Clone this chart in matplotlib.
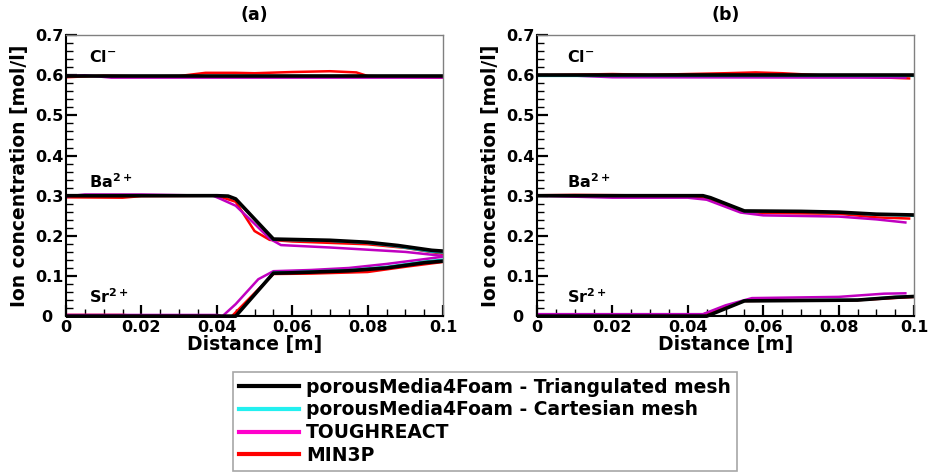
import matplotlib
matplotlib.use("Agg")
import matplotlib.pyplot as plt
from matplotlib.lines import Line2D
from matplotlib.ticker import MultipleLocator, FuncFormatter
from matplotlib.transforms import ScaledTranslation

# ---------------- data ----------------
# Panel (a)
a_cl_tri_x = [0.0, 0.1]
a_cl_tri_y = [0.598, 0.598]
a_cl_cart_x = [0.0, 0.1]
a_cl_cart_y = [0.597, 0.597]
a_cl_tough_x = [0.0, 0.005, 0.012, 0.1]
a_cl_tough_y = [0.598, 0.600, 0.594, 0.594]
a_cl_min3p_x = [0.0, 0.01, 0.02, 0.03, 0.037, 0.045, 0.05, 0.06, 0.07, 0.077, 0.08, 0.1]
a_cl_min3p_y = [0.595, 0.599, 0.597, 0.598, 0.606, 0.606, 0.605, 0.608, 0.610, 0.607, 0.598, 0.594]

a_ba_tri_x = [0.0, 0.04, 0.043, 0.045, 0.055, 0.06, 0.07, 0.08, 0.088, 0.097, 0.1]
a_ba_tri_y = [0.300, 0.300, 0.299, 0.292, 0.192, 0.191, 0.189, 0.184, 0.176, 0.164, 0.162]
a_ba_cart_x = [0.0, 0.04, 0.043, 0.045, 0.055, 0.06, 0.07, 0.08, 0.088, 0.097, 0.1]
a_ba_cart_y = [0.300, 0.300, 0.299, 0.291, 0.190, 0.189, 0.187, 0.182, 0.173, 0.160, 0.158]
a_ba_tough_x = [0.0, 0.005, 0.02, 0.039, 0.041, 0.045, 0.05, 0.054, 0.057, 0.07, 0.09, 0.1]
a_ba_tough_y = [0.298, 0.303, 0.303, 0.300, 0.292, 0.275, 0.230, 0.193, 0.177, 0.171, 0.160, 0.150]
a_ba_min3p_x = [0.0, 0.015, 0.02, 0.04, 0.045, 0.05, 0.054, 0.06, 0.08, 0.09, 0.1]
a_ba_min3p_y = [0.296, 0.295, 0.299, 0.300, 0.285, 0.212, 0.190, 0.186, 0.179, 0.170, 0.155]

a_sr_tri_x = [0.0, 0.045, 0.055, 0.06, 0.075, 0.085, 0.095, 0.1]
a_sr_tri_y = [0.0, 0.0, 0.107, 0.108, 0.113, 0.120, 0.133, 0.137]
a_sr_cart_x = [0.0, 0.045, 0.055, 0.06, 0.075, 0.085, 0.095, 0.1]
a_sr_cart_y = [0.0, 0.0, 0.109, 0.110, 0.115, 0.123, 0.136, 0.141]
a_sr_tough_x = [0.0, 0.04, 0.0415, 0.045, 0.051, 0.055, 0.065, 0.075, 0.085, 0.1]
a_sr_tough_y = [0.003, 0.003, 0.0, 0.030, 0.092, 0.112, 0.115, 0.120, 0.130, 0.148]
a_sr_min3p_x = [0.0, 0.015, 0.02, 0.044, 0.055, 0.065, 0.08, 0.09, 0.1]
a_sr_min3p_y = [0.003, 0.003, 0.0, 0.0, 0.105, 0.106, 0.110, 0.123, 0.135]

# Panel (b)
b_cl_tri_x = [0.0, 0.1]
b_cl_tri_y = [0.600, 0.600]
b_cl_cart_x = [0.0, 0.1]
b_cl_cart_y = [0.599, 0.599]
b_cl_tough_x = [0.0, 0.01, 0.02, 0.098]
b_cl_tough_y = [0.600, 0.599, 0.595, 0.594]
b_cl_min3p_x = [0.0, 0.02, 0.03, 0.04, 0.05, 0.058, 0.065, 0.075, 0.09, 0.099]
b_cl_min3p_y = [0.600, 0.603, 0.601, 0.603, 0.605, 0.607, 0.605, 0.600, 0.595, 0.592]

b_ba_tri_x = [0.0, 0.044, 0.046, 0.055, 0.07, 0.08, 0.09, 0.1]
b_ba_tri_y = [0.300, 0.300, 0.295, 0.262, 0.261, 0.259, 0.254, 0.252]
b_ba_cart_x = [0.0, 0.044, 0.046, 0.055, 0.07, 0.08, 0.09, 0.1]
b_ba_cart_y = [0.300, 0.300, 0.294, 0.261, 0.260, 0.258, 0.252, 0.250]
b_ba_tough_x = [0.0, 0.02, 0.04, 0.045, 0.054, 0.06, 0.08, 0.09, 0.098]
b_ba_tough_y = [0.300, 0.295, 0.295, 0.290, 0.258, 0.251, 0.248, 0.241, 0.233]
b_ba_min3p_x = [0.0, 0.01, 0.04, 0.046, 0.055, 0.06, 0.08, 0.09, 0.099]
b_ba_min3p_y = [0.301, 0.302, 0.300, 0.290, 0.260, 0.257, 0.255, 0.246, 0.243]

b_sr_tri_x = [0.0, 0.045, 0.055, 0.07, 0.085, 0.095, 0.1]
b_sr_tri_y = [0.0, 0.0, 0.038, 0.039, 0.040, 0.047, 0.049]
b_sr_cart_x = [0.0, 0.045, 0.055, 0.07, 0.085, 0.095, 0.1]
b_sr_cart_y = [0.0, 0.0, 0.039, 0.040, 0.041, 0.048, 0.050]
b_sr_tough_x = [0.0, 0.044, 0.05, 0.057, 0.08, 0.092, 0.098]
b_sr_tough_y = [0.005, 0.005, 0.027, 0.045, 0.048, 0.056, 0.057]
b_sr_min3p_x = [0.0, 0.044, 0.055, 0.085, 0.1]
b_sr_min3p_y = [0.004, 0.004, 0.038, 0.040, 0.048]

series_names = ["porousMedia4Foam - Triangulated mesh",
                "porousMedia4Foam - Cartesian mesh",
                "TOUGHREACT",
                "MIN3P"]
panel_titles = ["(a)", "(b)"]
ion_labels = [r"Cl$^{\mathbf{-}}$", r"Ba$^{\mathbf{2+}}$", r"Sr$^{\mathbf{2+}}$"]
ion_label_y = [0.645, 0.335, 0.048]

# ---------------- styles ----------------
plot_colors = {"tri": "black", "cart": "#00b3b3", "tough": "#c000c0", "min3p": "#ff0000"}
legend_colors = ["black", "#22f0f0", "#ff00cc", "#ff0000"]
lws = {"tri": 2.6, "cart": 1.6, "tough": 1.8, "min3p": 1.8}

plt.rcParams["font.family"] = "DejaVu Sans"
plt.rcParams["font.weight"] = "bold"
plt.rcParams["mathtext.default"] = "bf"

fig = plt.figure(figsize=(9.29, 4.74), dpi=100)
ax_a = fig.add_axes([0.071, 0.333, 0.406, 0.593])
ax_b = fig.add_axes([0.578, 0.333, 0.406, 0.593])

panels = [
    (ax_a, {
        "min3p": [(a_cl_min3p_x, a_cl_min3p_y), (a_ba_min3p_x, a_ba_min3p_y), (a_sr_min3p_x, a_sr_min3p_y)],
        "tough": [(a_cl_tough_x, a_cl_tough_y), (a_ba_tough_x, a_ba_tough_y), (a_sr_tough_x, a_sr_tough_y)],
        "cart": [(a_cl_cart_x, a_cl_cart_y), (a_ba_cart_x, a_ba_cart_y), (a_sr_cart_x, a_sr_cart_y)],
        "tri": [(a_cl_tri_x, a_cl_tri_y), (a_ba_tri_x, a_ba_tri_y), (a_sr_tri_x, a_sr_tri_y)],
    }, 0.006),
    (ax_b, {
        "min3p": [(b_cl_min3p_x, b_cl_min3p_y), (b_ba_min3p_x, b_ba_min3p_y), (b_sr_min3p_x, b_sr_min3p_y)],
        "tough": [(b_cl_tough_x, b_cl_tough_y), (b_ba_tough_x, b_ba_tough_y), (b_sr_tough_x, b_sr_tough_y)],
        "cart": [(b_cl_cart_x, b_cl_cart_y), (b_ba_cart_x, b_ba_cart_y), (b_sr_cart_x, b_sr_cart_y)],
        "tri": [(b_cl_tri_x, b_cl_tri_y), (b_ba_tri_x, b_ba_tri_y), (b_sr_tri_x, b_sr_tri_y)],
    }, 0.008),
]


def fmt(v, pos):
    if abs(v) < 1e-12:
        return "0"
    return ("%g" % round(v, 3))


for (ax, data, lab_x), title in zip(panels, panel_titles):
    for key in ["min3p", "tough", "cart", "tri"]:
        for xs, ys in data[key]:
            ax.plot(xs, ys, color=plot_colors[key], lw=lws[key], solid_capstyle="butt", clip_on=False)
    ax.set_xlim(0, 0.1)
    ax.set_ylim(0, 0.7)
    ax.xaxis.set_major_locator(MultipleLocator(0.02))
    ax.xaxis.set_minor_locator(MultipleLocator(0.005))
    ax.yaxis.set_major_locator(MultipleLocator(0.1))
    ax.yaxis.set_minor_locator(MultipleLocator(0.02))
    ax.xaxis.set_major_formatter(FuncFormatter(fmt))
    ax.yaxis.set_major_formatter(FuncFormatter(fmt))
    ax.tick_params(which="major", direction="in", length=8, width=1.6, labelsize=11.5, pad=2)
    ax.tick_params(axis="x", which="major", pad=3)
    ax.tick_params(which="minor", direction="in", length=5, width=1.0)
    ax.tick_params(top=False, right=False, which="both")
    for lab in ax.get_xticklabels() + ax.get_yticklabels():
        lab.set_fontweight("bold")
    for s in ["top", "right"]:
        ax.spines[s].set_color("#808080")
        ax.spines[s].set_linewidth(1.0)
    for s in ["left", "bottom"]:
        ax.spines[s].set_color("black")
        ax.spines[s].set_linewidth(1.5)
    ax.set_xlabel("Distance [m]", fontsize=13.5, fontweight="bold", labelpad=0)
    ax.set_ylabel("Ion concentration [mol/l]", fontsize=13.5, fontweight="bold", labelpad=4)
    ax.set_title(title, fontsize=12.5, fontweight="bold", pad=11)
    for txt, yy in zip(ion_labels, ion_label_y):
        ax.text(lab_x, yy, txt, fontsize=11.5, fontweight="bold", ha="left", va="center")

handles = [Line2D([], [], color=c, lw=3) for c in legend_colors]
leg = fig.legend(handles, series_names, loc="upper left", bbox_to_anchor=(0.251, 0.215),
                 frameon=True, fancybox=False, prop={"size": 13.5, "weight": "bold"},
                 handlelength=3.2, handletextpad=0.4, labelspacing=0.2, borderpad=0.3,
                 borderaxespad=0)
leg.get_frame().set_edgecolor("#909090")
leg.get_frame().set_linewidth(1.2)

# nudge the y-axis "0" labels left, as in the reference, so they clear the x "0"
fig.canvas.draw()
for ax in (ax_a, ax_b):
    for tick in ax.yaxis.get_major_ticks():
        if abs(tick.get_loc()) < 1e-12:
            lab = tick.label1
            lab.set_transform(lab.get_transform() + ScaledTranslation(-8 / 72, 0, fig.dpi_scale_trans))

fig.savefig("out.png", dpi=100)
